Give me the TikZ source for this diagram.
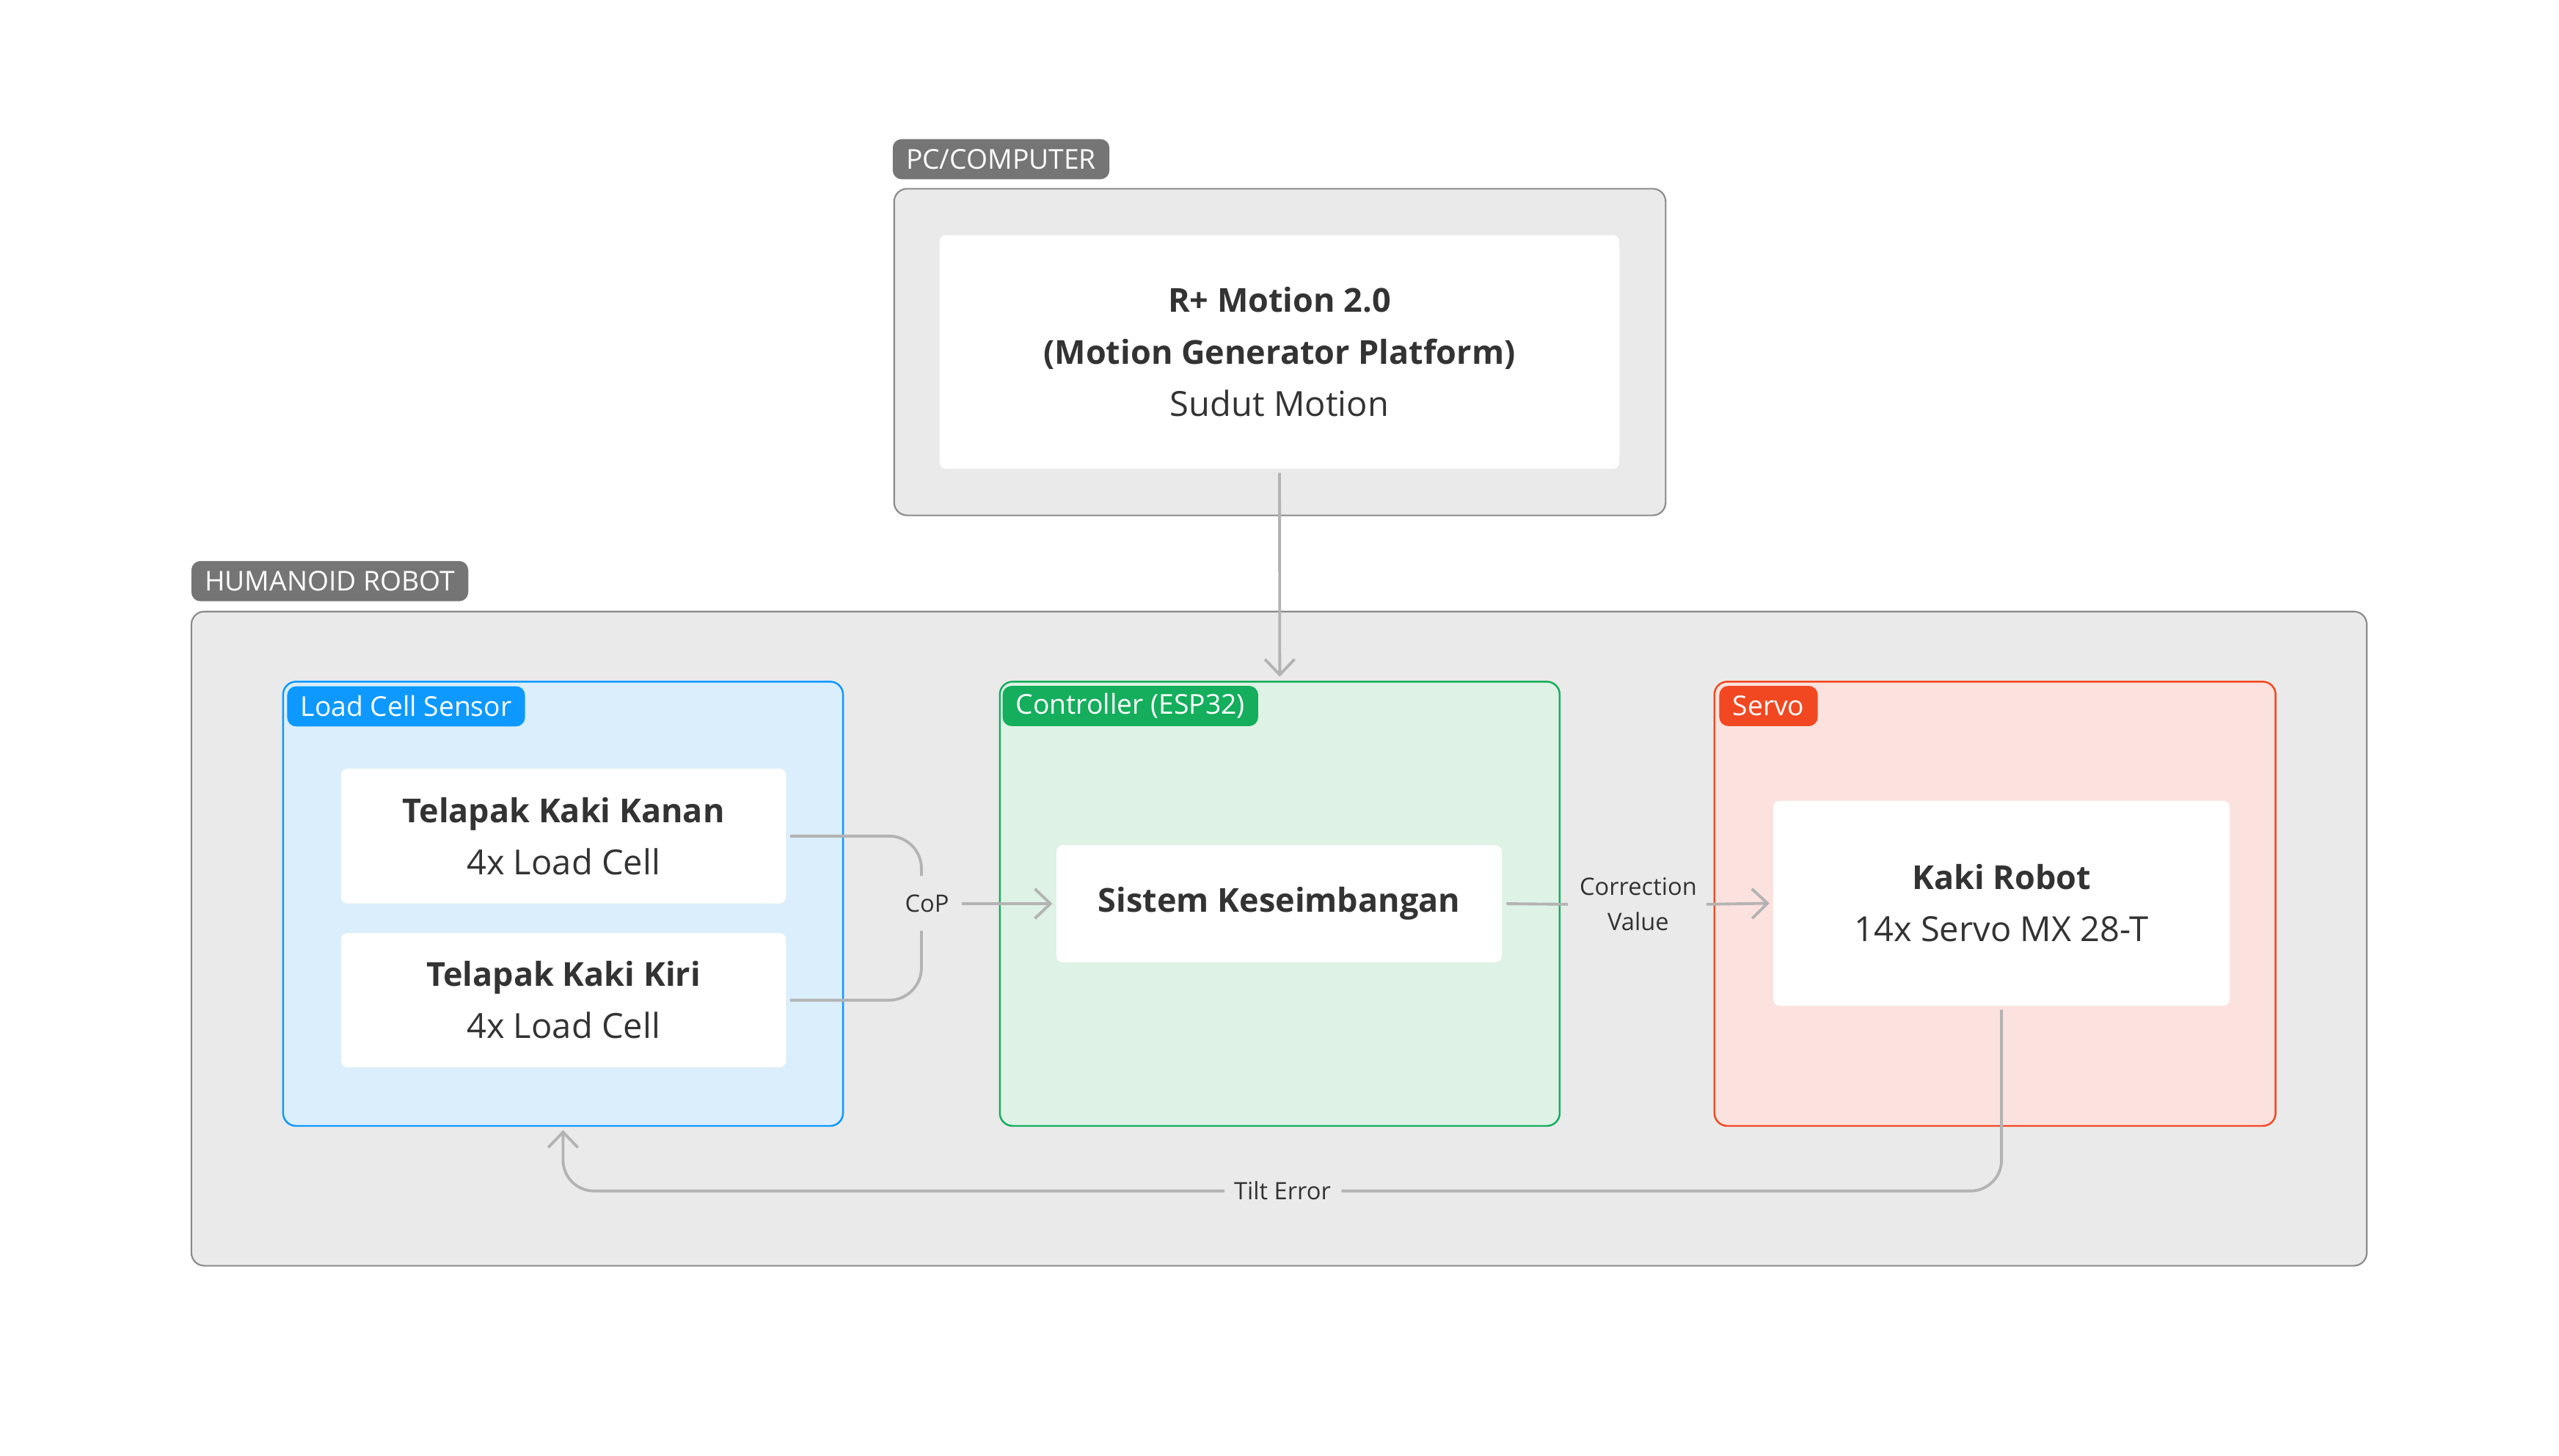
\documentclass[tikz,border=0pt]{standalone}
\usepackage{fontspec}
\setmainfont{Open Sans}
\usetikzlibrary{arrows.meta}
\definecolor{framefill}{HTML}{EAEAEA}
\definecolor{framedraw}{HTML}{8A8A8A}
\definecolor{taggray}{HTML}{757575}
\definecolor{txt}{HTML}{333333}
\definecolor{wire}{HTML}{B3B3B3}
\definecolor{cellblue}{HTML}{0D99FF}
\definecolor{cellfill}{HTML}{DBEEFB}
\definecolor{ctrlgreen}{HTML}{14AE5C}
\definecolor{ctrlfill}{HTML}{DEF2E5}
\definecolor{servored}{HTML}{F24822}
\definecolor{servofill}{HTML}{FCE2DE}
\newcommand{\pxu}{0.6313pt}
\newcommand{\boxhead}[1]{{\fontsize{12.8}{20.2}\selectfont\bfseries #1}}
\tikzset{
  frame/.style 2 args={draw=framedraw,fill=framefill,line width=0.6pt,rounded corners=5pt,
    inner sep=0pt,outer sep=0pt,minimum width=#1*\pxu,minimum height=#2*\pxu},
  group/.style n args={4}{draw=#1,fill=#2,line width=0.7pt,rounded corners=5pt,
    inner sep=0pt,outer sep=0pt,minimum width=#3*\pxu,minimum height=#4*\pxu},
  tagbox/.style={fill=#1,text=white,rounded corners=3.5pt,inner xsep=5.2pt,inner ysep=0pt,
    outer sep=0pt,minimum height=15.6pt,font=\fontsize{10.6}{12}\selectfont},
  inbox/.style 2 args={fill=white,rounded corners=2.5pt,inner sep=0pt,outer sep=0pt,
    minimum width=#1*\pxu,minimum height=#2*\pxu,align=center,text=txt,
    font=\fontsize{13.4}{20.2}\selectfont},
  lbl/.style={text=txt,align=center,inner sep=0pt,font=\fontsize{9.3}{13.5}\selectfont},
  wire/.style={draw=wire,line width=1.1pt},
  arr/.style={-{Straight Barb[length=6pt,width=11.5pt,line width=1.1pt]}}
}
\begin{document}
\begin{tikzpicture}[x=0.022245cm,y=-0.022245cm]
\useasboundingbox (0,0) rectangle (1568,891.9);
\node[frame={474}{200.7}] (pc) at (784.25,215.75) {};
\node[tagbox=taggray,anchor=south west] (pctag) at ([shift={(-0.9,-5.8)}]pc.north west) {PC/COMPUTER};
\node[inbox={417.7}{143.6}] (motion) at (784,215.7)
  {\boxhead{R+ Motion 2.0}\\\boxhead{(Motion Generator Platform)}\\Sudut Motion};

\node[frame={1336.5}{402}] (robot) at (783.75,575.25) {};
\node[tagbox=taggray,anchor=south west] (robottag) at ([shift={(0,-6.3)}]robot.north west) {HUMANOID ROBOT};

\node[group={cellblue}{cellfill}{344}{273}] (cell) at (345,553.9) {};
\node[group={ctrlgreen}{ctrlfill}{344}{273}] (ctrl) at (784.15,553.9) {};
\node[group={servored}{servofill}{344.8}{273}] (servo) at (1222.4,553.9) {};
\node[tagbox=cellblue,anchor=north west] (celltag) at ([shift={(2.5,2.8)}]cell.north west) {Load Cell Sensor};
\node[tagbox=ctrlgreen,anchor=north west] (ctrltag) at ([shift={(1.7,2.6)}]ctrl.north west) {Controller (ESP32)};
\node[tagbox=servored,anchor=north west] (servotag) at ([shift={(3,2.6)}]servo.north west) {Servo};

\node[inbox={273.4}{82.8}] (kanan) at (345.3,512.4) {\boxhead{Telapak Kaki Kanan}\\4x Load Cell};
\node[inbox={273.4}{82.5}] (kiri) at (345.3,613) {\boxhead{Telapak Kaki Kiri}\\4x Load Cell};
\node[inbox={273.6}{72}] (sistem) at (783.8,553.85) {\boxhead{Sistem Keseimbangan}};
\node[inbox={280.3}{126}] (kaki) at (1226.4,553.6) {\boxhead{Kaki Robot}\\14x Servo MX 28-T};

\node[lbl] (cop) at (568,553.8) {CoP};
\node[lbl] (corr) at (1003.8,554.2) {Correction\\Value};
\node[lbl] (tilt) at (785.8,729.9) {Tilt Error};

\draw[wire,arr] ([yshift=-1.6pt]motion.south) -- ([yshift=1.9pt]ctrl.north);
\draw[wire,rounded corners=12.6pt] ([xshift=1.6pt]kanan.east) -| ([shift={(-3.4,-17)}]cop.center);
\draw[wire,rounded corners=12.6pt] ([xshift=1.6pt]kiri.east) -| ([shift={(-3.4,16.7)}]cop.center);
\draw[wire,arr] ([shift={(21.4,0)}]cop.center) -- ([xshift=-1.6pt]sistem.west);
\draw[wire] ([xshift=1.8pt]sistem.east) -- ([shift={(-43.1,0)}]corr.center);
\draw[wire,arr] ([shift={(41.8,0)}]corr.center) -- ([xshift=-1.5pt]kaki.west);
\draw[wire,rounded corners=12pt] ([yshift=-1.5pt]kaki.south) |- ([shift={(36.2,0)}]tilt.center);
\draw[wire,arr,rounded corners=12pt] ([shift={(-35.5,0)}]tilt.center) -| ([yshift=-1.6pt]cell.south);
\end{tikzpicture}
\end{document}
